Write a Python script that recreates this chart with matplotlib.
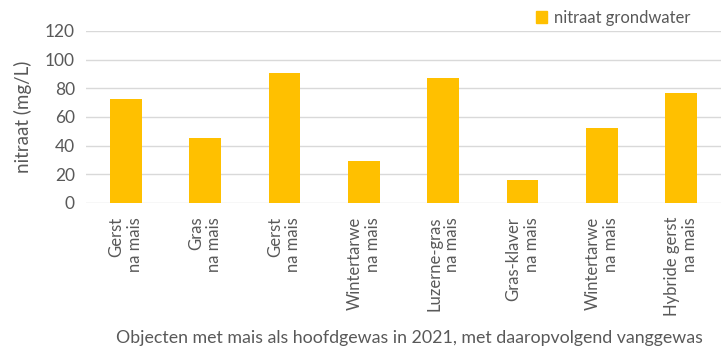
import matplotlib
matplotlib.use("Agg")
import matplotlib.pyplot as plt
from matplotlib.patches import Patch

categories = ["Gerst\nna mais", "Gras\nna mais", "Gerst\nna mais", "Wintertarwe\nna mais",
              "Luzerne-gras\nna mais", "Gras-klaver\nna mais", "Wintertarwe\nna mais",
              "Hybride gerst\nna mais"]
values = [72.5, 45, 90.5, 29, 87.5, 16, 52, 76.5]
yticks = [0, 20, 40, 60, 80, 100, 120]
series_name = "nitraat grondwater"
ylabel = "nitraat (mg/L)"
xlabel = "Objecten met mais als hoofdgewas in 2021, met daaropvolgend vanggewas"

plt.rcParams['font.family'] = ['Lato', 'DejaVu Sans']
gray = '#595959'
bar_color = '#FFC000'

fig = plt.figure(figsize=(7.21, 3.51), dpi=100)
ax = fig.add_axes([0.1193, 0.4217, 0.8807, 0.49])
x = range(len(categories))
ax.bar(x, values, width=0.4, color=bar_color, zorder=3)
ax.set_xlim(-0.5, len(categories) - 0.5)
ax.set_ylim(0, 120)
ax.set_yticks(yticks)
ax.grid(axis='y', color='#d9d9d9', linewidth=1, zorder=0)
for s in ax.spines.values():
    s.set_visible(False)
ax.tick_params(axis='both', length=0, colors=gray)
ax.tick_params(axis='y', pad=8, labelsize=12.5)
ax.set_xticks(list(x))
ax.set_xticklabels(categories, rotation=90, ha='center', va='top', multialignment='right',
                   fontsize=12, linespacing=1.15)
ax.tick_params(axis='x', pad=10)
ax.set_ylabel(ylabel, color=gray, fontsize=13.5, labelpad=9)
fig.text(0.568, 0.037, xlabel, ha='center', va='center', color=gray, fontsize=12.8)
ax.legend(handles=[Patch(color=bar_color, label=series_name)], loc='upper right',
          bbox_to_anchor=(0.975, 1.21), frameon=False, fontsize=12, labelcolor=gray,
          handlelength=0.65, handleheight=0.65, handletextpad=0.4)
fig.savefig("out.png", dpi=100)
